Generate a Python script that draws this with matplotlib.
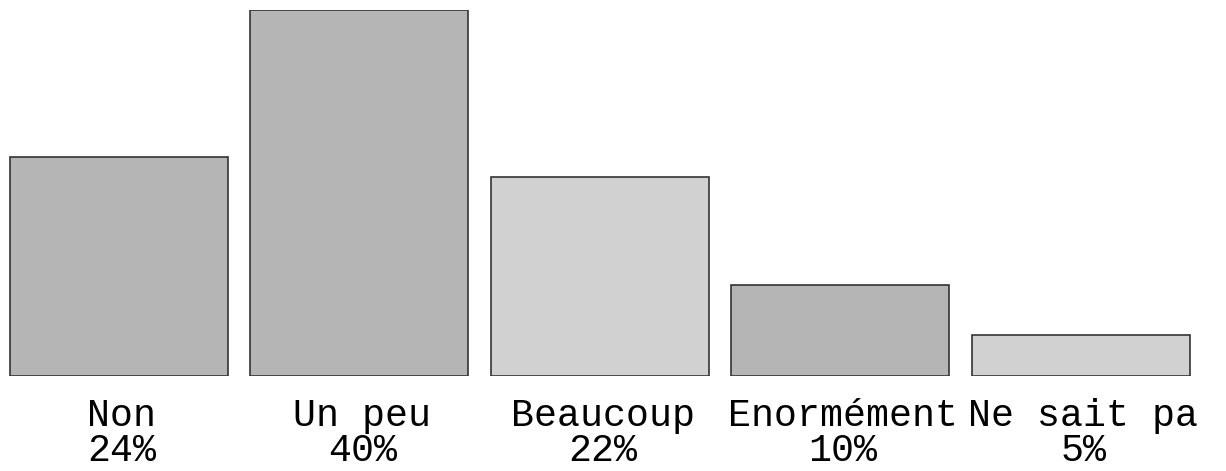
import matplotlib.pyplot as plt

# Data
categories = ['Non', 'Un peu', 'Beaucoup', 'Enormément', 'Ne sait pa']
values = [23.9, 40.0, 21.7, 9.9, 4.5]
pct_labels = ['24%', '40%', '22%', '10%', '5%']
colors = ['#b5b5b5', '#b5b5b5', '#d1d1d1', '#b5b5b5', '#d1d1d1']

W, H = 1226, 471
fig = plt.figure(figsize=(W / 100, H / 100), dpi=100)
ax = fig.add_axes([0, 95 / H, 1, 366 / H])

x = range(len(categories))
ax.bar(x, values, width=0.907, color=colors, edgecolor='#333333', linewidth=1.2)

ax.set_xlim(-0.495, -0.495 + W / 240.4)
ax.set_ylim(0, 40)
ax.axis('off')

# name and share stacked under each bar, as one two-line label
for i, (cat, pct) in enumerate(zip(categories, pct_labels)):
    ax.annotate(f'{cat}\n{pct}', xy=(i, 0), xytext=(2, -16), textcoords='offset points',
                ha='center', va='top', multialignment='center', linespacing=0.95,
                annotation_clip=False, family=['Liberation Mono', 'DejaVu Sans Mono'],
                fontsize=27.5, color='black')

fig.savefig('out.png', dpi=100)
